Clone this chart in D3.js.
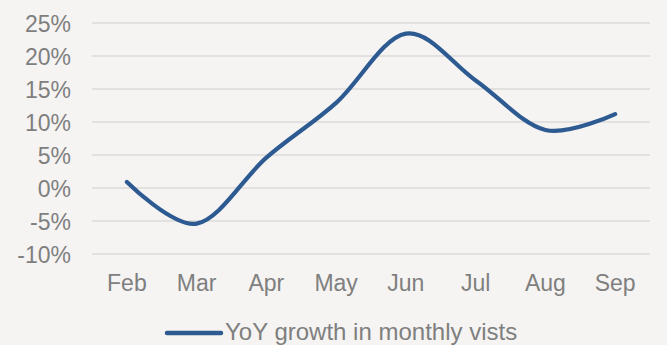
<!DOCTYPE html>
<html>
<head>
<meta charset="utf-8">
<script src="https://cdn.jsdelivr.net/npm/d3@7"></script>
<style>
  html, body { margin: 0; padding: 0; background: #f5f4f2; }
  svg { display: block; }
  text { font-family: "Liberation Sans", Arial, sans-serif; fill: #7f7f7f; }
</style>
</head>
<body>
<svg id="chart" width="667" height="345"></svg>
<script>
// Monthly year-over-year growth in visits (percent)
const months = ["Feb", "Mar", "Apr", "May", "Jun", "Jul", "Aug", "Sep"];
const growth = [0.9, -5.4, 4.6, 12.9, 23.4, 16.3, 8.8, 11.2];
const yTicks = [-10, -5, 0, 5, 10, 15, 20, 25];
const seriesName = "YoY growth in monthly vists";

const svg = d3.select("#chart");
const W = 667, H = 345;
const plot = { left: 92, right: 650, top: 23, bottom: 254 };
const lineColor = "#2d5a91";
const fontSize = 23;

svg.append("rect").attr("width", W).attr("height", H).attr("fill", "#f5f4f2");

const x = d3.scaleBand().domain(months).range([plot.left, plot.right]);
const y = d3.scaleLinear().domain([-10, 25]).range([plot.bottom, plot.top]);

// horizontal gridlines
svg.append("g").selectAll("line").data(yTicks).join("line")
  .attr("x1", plot.left).attr("x2", plot.right)
  .attr("y1", d => y(d)).attr("y2", d => y(d))
  .attr("stroke", "#dcdbd9").attr("stroke-width", 1.3);

// y axis labels
const yAxis = d3.axisLeft(y).tickValues(yTicks).tickSize(0).tickPadding(0)
  .tickFormat(d => d + "%");
const gy = svg.append("g").attr("transform", `translate(${plot.left - 21},0)`).call(yAxis);
gy.select(".domain").remove();
gy.selectAll("text").attr("font-size", fontSize).attr("dy", "0.36em")
  .style("font-family", "Liberation Sans, Arial, sans-serif").attr("fill", "#7f7f7f");

// x axis labels
const xAxis = d3.axisBottom(x).tickSize(0).tickPadding(0);
const gx = svg.append("g").attr("transform", `translate(0,${plot.bottom + 21})`).call(xAxis);
gx.select(".domain").remove();
gx.selectAll("text").attr("font-size", fontSize).attr("dy", "0.71em")
  .style("font-family", "Liberation Sans, Arial, sans-serif").attr("fill", "#7f7f7f");

// smoothed growth line
const line = d3.line()
  .x((d, i) => x(months[i]) + x.bandwidth() / 2)
  .y(d => y(d))
  .curve(d3.curveCatmullRom.alpha(0));

svg.append("path").datum(growth)
  .attr("d", line)
  .attr("fill", "none")
  .attr("stroke", lineColor)
  .attr("stroke-width", 4.2)
  .attr("stroke-linecap", "round")
  .attr("stroke-linejoin", "round");

// legend
const legend = svg.append("g").attr("transform", "translate(167,333)");
legend.append("line")
  .attr("x1", 0).attr("x2", 54).attr("y1", 0).attr("y2", 0)
  .attr("stroke", lineColor).attr("stroke-width", 4.5).attr("stroke-linecap", "round");
legend.append("text")
  .attr("x", 58).attr("y", 6.8)
  .attr("font-size", 24)
  .text(seriesName);
</script>
</body>
</html>
